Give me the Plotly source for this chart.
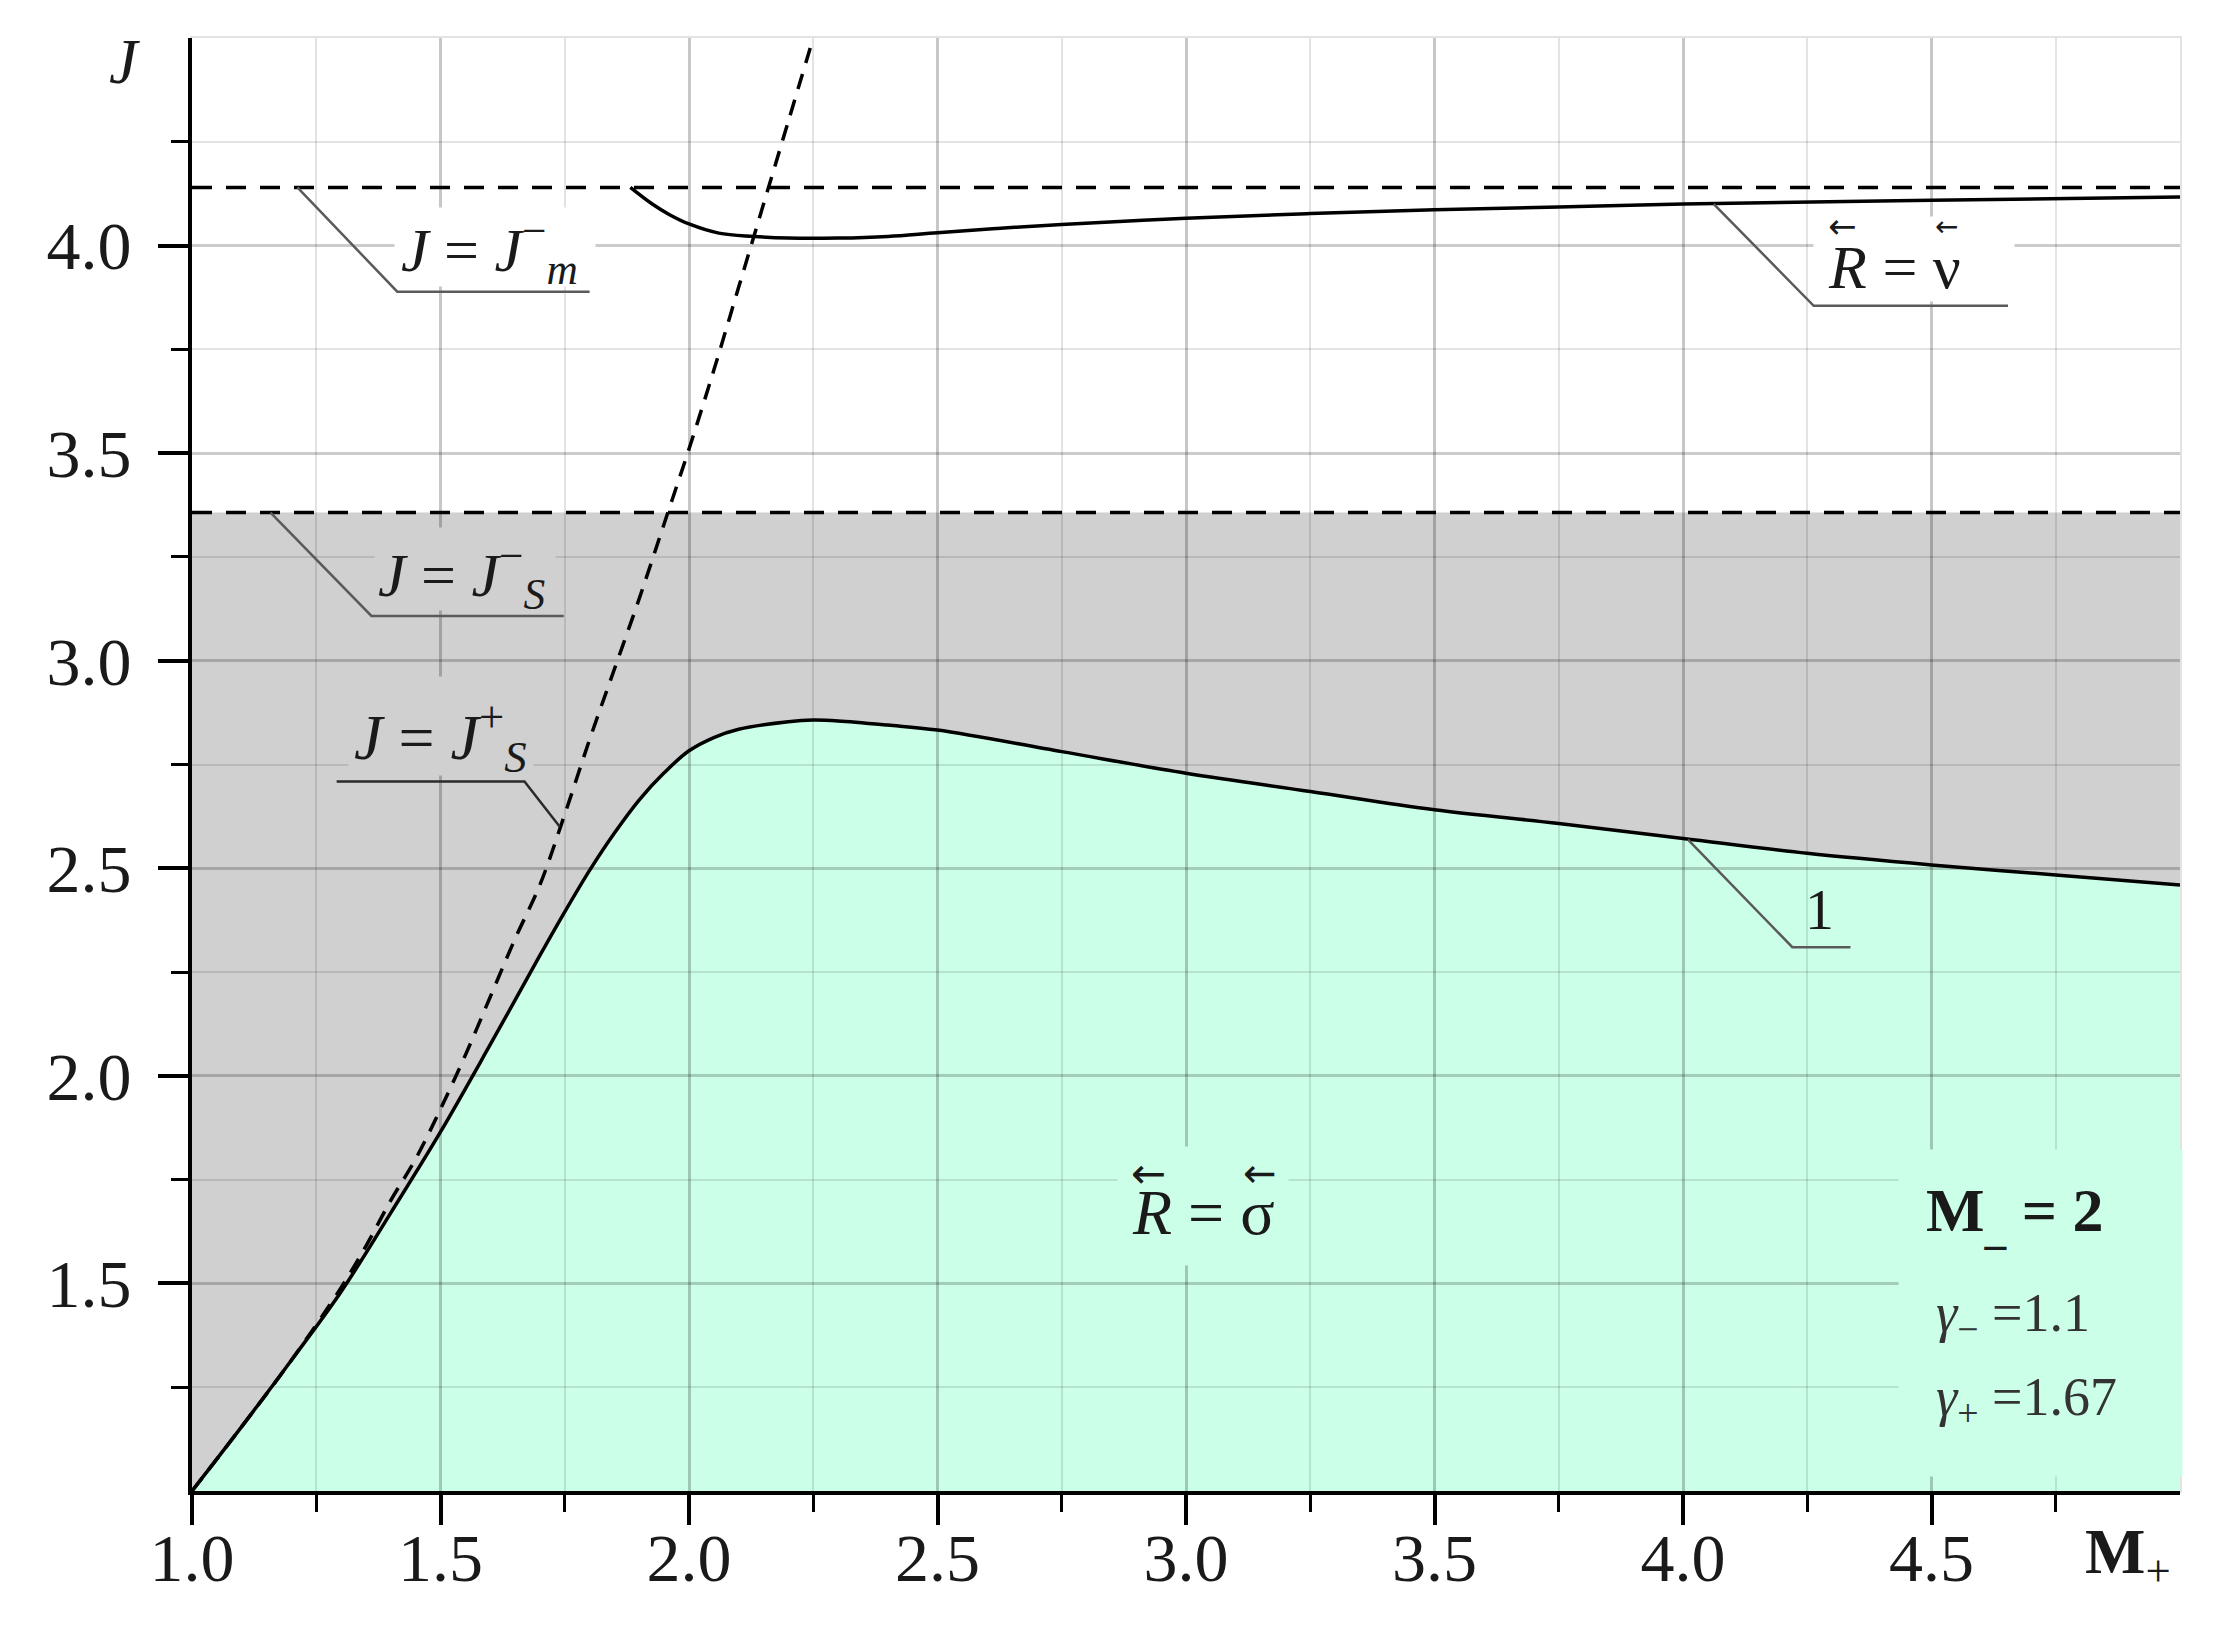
import plotly.graph_objects as go

# ---------------- data ----------------
# Curve 1 : boundary R = sigma (lower solid curve)
M_CURVE1 = [1.0, 1.1, 1.2, 1.3, 1.4, 1.5, 1.6, 1.7, 1.75, 1.8, 1.85, 1.9, 1.95, 2.0,
            2.05, 2.1, 2.2, 2.25, 2.3, 2.4, 2.5, 2.75, 3.0, 3.25, 3.5, 3.75, 4.0, 4.25,
            4.5, 4.75, 5.0]
J_CURVE1 = [1.0, 1.155, 1.315, 1.48, 1.67, 1.865, 2.075, 2.29, 2.395, 2.495, 2.585, 2.665,
            2.73, 2.783, 2.815, 2.835, 2.853, 2.857, 2.855, 2.845, 2.833, 2.781, 2.729,
            2.685, 2.641, 2.608, 2.572, 2.536, 2.508, 2.484, 2.460]

# Upper solid curve R = nu
M_RNU = [1.882, 1.926, 1.96, 2.0, 2.06, 2.13, 2.2, 2.3, 2.4, 2.5, 2.62, 2.75, 3.0,
         3.25, 3.5, 3.75, 4.0, 4.5, 5.0]
J_RNU = [4.14, 4.10, 4.075, 4.052, 4.03, 4.022, 4.018, 4.018, 4.022, 4.031, 4.041,
         4.051, 4.066, 4.077, 4.086, 4.093, 4.10, 4.109, 4.117]

# Dashed curve J = J_S^+
M_JSP = [1.0, 1.1, 1.2, 1.3, 1.35, 1.4, 1.45, 1.5, 1.55, 1.6, 1.65, 1.7, 1.75, 1.8,
         1.85, 1.9, 1.95, 2.0, 2.05, 2.1, 2.15, 2.2, 2.25]
J_JSP = [1.0, 1.155, 1.315, 1.49, 1.59, 1.70, 1.80, 1.92, 2.05, 2.19, 2.33, 2.46,
         2.63, 2.81, 2.98, 3.15, 3.33, 3.51, 3.70, 3.90, 4.10, 4.30, 4.50]

# Horizontal dashed levels
M_LEVEL = [1.0, 5.0]
J_M_MINUS = 4.14
J_S_MINUS = 3.357

# Axis ticks
X_TICKS = [1.0, 1.5, 2.0, 2.5, 3.0, 3.5, 4.0, 4.5]
X_TICK_TEXT = ["1.0", "1.5", "2.0", "2.5", "3.0", "3.5", "4.0", "4.5"]
X_MINOR = [1.25, 1.75, 2.25, 2.75, 3.25, 3.75, 4.25, 4.75]
Y_TICKS = [1.5, 2.0, 2.5, 3.0, 3.5, 4.0]
Y_TICK_TEXT = ["1.5", "2.0", "2.5", "3.0", "3.5", "4.0"]
Y_MINOR = [1.25, 1.75, 2.25, 2.75, 3.25, 3.75, 4.25]
X_GRID_MAJOR = [1.5, 2.0, 2.5, 3.0, 3.5, 4.0, 4.5]
Y_GRID_MAJOR = [1.5, 2.0, 2.5, 3.0, 3.5, 4.0]

# Label leader polylines (annotation decorations)
LEADERS = {
    "jm": ([1.212, 1.413, 1.80], [4.14, 3.889, 3.889]),
    "jsm": ([1.158, 1.361, 1.748], [3.357, 3.108, 3.108]),
    "jsp": ([1.291, 1.669, 1.74], [2.709, 2.709, 2.60]),
    "one": ([4.01, 4.22, 4.337], [2.569, 2.31, 2.31]),
    "rnu": ([4.062, 4.263, 4.654], [4.10, 3.855, 3.855]),
}

# ---------------- styling ----------------
SERIF = "Liberation Serif"
GRAY_FILL = "#d0d0d0"
GREEN_FILL = "#ccffe8"
TXT = "#1a1a1a"

fig = go.Figure()

# subplot 1 : filled regions
fig.add_trace(go.Scatter(x=M_LEVEL, y=[J_S_MINUS] * len(M_LEVEL), mode="lines",
                         line=dict(width=0, color=GRAY_FILL), showlegend=False,
                         hoverinfo="skip", xaxis="x", yaxis="y"))
fig.add_trace(go.Scatter(x=M_CURVE1, y=J_CURVE1, mode="lines", fill="tonexty",
                         fillcolor=GRAY_FILL, line=dict(width=0, shape="spline"),
                         showlegend=False, hoverinfo="skip", xaxis="x", yaxis="y"))
fig.add_trace(go.Scatter(x=M_CURVE1, y=J_CURVE1, mode="lines", fill="tozeroy",
                         fillcolor=GREEN_FILL, line=dict(width=0, shape="spline"),
                         showlegend=False, hoverinfo="skip", xaxis="x", yaxis="y"))

# subplot 2 : lines (drawn above the grid of subplot 2)
def line_trace(x, y, dash="solid", width=3.5, shape="spline"):
    return go.Scatter(x=x, y=y, mode="lines", showlegend=False, hoverinfo="skip",
                      line=dict(color="black", width=width, dash=dash, shape=shape),
                      xaxis="x2", yaxis="y2")

fig.add_trace(line_trace(M_LEVEL, [J_M_MINUS] * 2, dash="20px,14px", width=3.5, shape="linear"))
fig.add_trace(line_trace(M_LEVEL, [J_S_MINUS] * 2, dash="20px,14px", width=3.5, shape="linear"))
fig.add_trace(line_trace(M_JSP, J_JSP, dash="16px,11px", width=3.5))
fig.add_trace(line_trace(M_CURVE1, J_CURVE1, width=3.5))
fig.add_trace(line_trace(M_RNU, J_RNU, width=3.5))

# leader lines
for key, (lx, ly) in LEADERS.items():
    col = "#2a2a2a" if key == "jsp" else "#5a5a5a"
    fig.add_trace(go.Scatter(x=lx, y=ly, mode="lines", showlegend=False, hoverinfo="skip",
                             line=dict(color=col, width=2.5), xaxis="x2", yaxis="y2"))

W, H = 2207, 1611
fig.update_layout(
    width=W, height=H, autosize=False,
    margin=dict(l=184, r=35, t=30, b=128),
    paper_bgcolor="white", plot_bgcolor="rgba(0,0,0,0)",
    font=dict(family=SERIF, color=TXT),
    xaxis=dict(range=[1, 5], domain=[0, 1], anchor="y", automargin=False,
               tickmode="array", tickvals=X_TICKS, ticktext=X_TICK_TEXT,
               ticks="outside", ticklen=30, tickwidth=4, tickcolor="black",
               minor=dict(tickmode="array", tickvals=X_MINOR, ticks="outside",
                          ticklen=17, tickwidth=3, tickcolor="black", showgrid=False),
               showgrid=False, zeroline=False, showline=True, linecolor="black",
               linewidth=4, tickfont=dict(family=SERIF, size=68, color=TXT),
               ticklabelstandoff=-26),
    yaxis=dict(range=[1, 4.5], domain=[0, 1], anchor="x", automargin=False,
               tickmode="array", tickvals=Y_TICKS, ticktext=Y_TICK_TEXT,
               ticks="outside", ticklen=30, tickwidth=4, tickcolor="black",
               minor=dict(tickmode="array", tickvals=Y_MINOR, ticks="outside",
                          ticklen=17, tickwidth=3, tickcolor="black", showgrid=False),
               showgrid=False, zeroline=False, showline=True, linecolor="black",
               linewidth=4, tickfont=dict(family=SERIF, size=68, color=TXT),
               ticklabelstandoff=13),
    xaxis2=dict(range=[1, 5], domain=[0, 1], anchor="y2", automargin=False,
                tickmode="array", tickvals=X_GRID_MAJOR, showticklabels=False, ticks="",
                showgrid=True, gridcolor="rgba(0,0,0,0.22)", gridwidth=3,
                minor=dict(tickmode="array", tickvals=X_MINOR, showgrid=True,
                           gridcolor="rgba(0,0,0,0.11)", gridwidth=2, ticks=""),
                zeroline=False, showline=True, mirror=True,
                linecolor="rgba(0,0,0,0.11)", linewidth=2),
    yaxis2=dict(range=[1, 4.5], domain=[0, 1], anchor="x2", automargin=False,
                tickmode="array", tickvals=Y_GRID_MAJOR, showticklabels=False, ticks="",
                showgrid=True, gridcolor="rgba(0,0,0,0.20)", gridwidth=3,
                minor=dict(tickmode="array", tickvals=Y_MINOR, showgrid=True,
                           gridcolor="rgba(0,0,0,0.11)", gridwidth=2, ticks=""),
                zeroline=False, showline=True, mirror=True,
                linecolor="rgba(0,0,0,0.11)", linewidth=2),
)

NB = "\u00a0"
ann = []

def box(x, y, w, h, color):
    ann.append(dict(x=x, y=y, xref="x2", yref="y2", text=NB, showarrow=False,
                    width=w, height=h, bgcolor=color, borderpad=0,
                    xanchor="center", yanchor="middle"))

def label(x, y, text, size=62, xanchor="center", color=TXT, xref="x2", yref="y2",
          family=SERIF):
    ann.append(dict(x=x, y=y, xref=xref, yref=yref, text=text, showarrow=False,
                    font=dict(family=family, size=size, color=color),
                    xanchor=xanchor, yanchor="middle"))

# background boxes behind labels (kept clear of the leader lines)
box(1.609, 3.997, 200, 78, "white")
box(1.55, 3.222, 180, 82, GRAY_FILL)
box(1.501, 2.842, 184, 98, GRAY_FILL)
box(4.464, 3.968, 200, 84, "white")
box(3.035, 1.687, 170, 118, GREEN_FILL)
box(4.72, 1.429, 283, 326, GREEN_FILL)

# labels
label(1.598, 3.99, "<i>J</i>" + NB + "=" + NB + "<i>J</i><sup>−</sup><sub><i>m</i></sub>", 62)
label(1.543, 3.207, "<i>J</i>" + NB + "=" + NB + "<i>J</i><sup>−</sup><sub><i>S</i></sub>", 62)
label(1.50, 2.817, "<i>J</i>" + NB + "=" + NB + "<i>J</i><sup>+</sup><sub><i>S</i></sub>", 64)
label(4.275, 2.40, "1", 58)
label(4.425, 3.948, "<i>R</i>" + NB + "=" + NB + "ν", 62)
label(4.32, 4.046, "←", 34, family="DejaVu Sans")
label(4.53, 4.046, "←", 28, family="DejaVu Sans")
label(3.035, 1.67, "<i>R</i>" + NB + "=" + NB + "σ", 64)
label(2.924, 1.765, "←", 42, family="DejaVu Sans")
label(3.148, 1.765, "←", 40, family="DejaVu Sans")
label(4.485, 1.665, "<b>M<sub>_</sub>" + NB + "=" + NB + "2</b>", 62, xanchor="left")
label(4.505, 1.42, "<i>γ</i><sub>−</sub>" + NB + "=1.1", 54, xanchor="left", color="#333333")
label(4.505, 1.217, "<i>γ</i><sub>+</sub>" + NB + "=1.67", 54, xanchor="left", color="#333333")

# axis titles
label(-0.0342, 0.9835, "<i>J</i>", 64, xref="paper", yref="paper")
label(0.9512, -0.0447, "<b>M</b><sub>+</sub>", 64, xanchor="left", xref="paper", yref="paper")

fig.update_layout(annotations=ann)

fig.write_html("out.html")
